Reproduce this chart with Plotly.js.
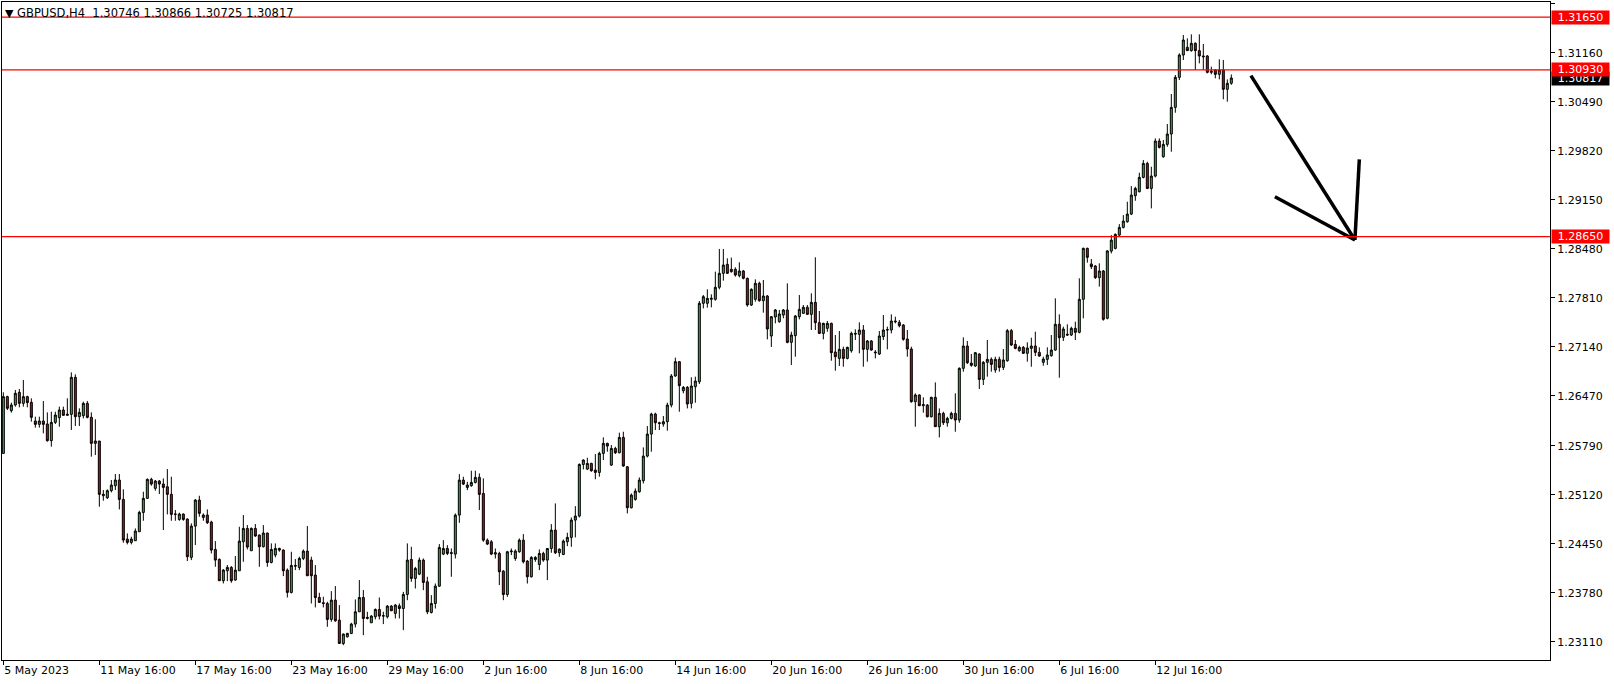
<!DOCTYPE html>
<html>
<head>
<meta charset="utf-8">
<script src="https://cdn.plot.ly/plotly-3.0.1.min.js"></script>
<style>html,body{margin:0;padding:0;background:#fff;}#chart{width:1614px;height:684px;}</style>
</head>
<body>
<div id="chart"></div>
<script>
// GBPUSD H4, bars from 5 May 2023 16:00 to 17 Jul 2023 20:00
const openP = [
1.25685,1.26461,1.26269,1.26347,1.26520,1.26369,1.26461,1.26383,1.26128,1.26082,
1.26128,1.26087,1.25859,1.26109,1.26173,1.26278,1.26205,1.26219,1.26725,1.26187,
1.26201,1.26369,1.26178,1.25822,1.25854,1.25106,1.25079,1.25175,1.25243,1.25321,
1.25056,1.24513,1.24468,1.24491,1.24614,1.24878,1.25070,1.25330,1.25207,1.25307,
1.25266,1.25229,1.25125,1.24851,1.24782,1.24855,1.24787,1.24263,1.24691,1.25047,
1.24810,1.24842,1.24746,1.24372,1.24235,1.23944,1.24080,1.24126,1.23953,1.24080,
1.24477,1.24659,1.24354,1.24659,1.24568,1.24409,1.24596,1.24194,1.24295,1.24386,
1.24363,1.24089,1.23784,1.24153,1.24126,1.24249,1.24349,1.24226,1.24021,1.23715,
1.23643,1.23633,1.23415,1.23679,1.23405,1.23086,1.23177,1.23223,1.23351,1.23519,
1.23715,1.23428,1.23369,1.23451,1.23551,1.23460,1.23451,1.23597,1.23497,1.23601,
1.23564,1.23756,1.24235,1.23975,1.24034,1.24226,1.23929,1.23510,1.23633,1.23870,
1.24308,1.24385,1.24317,1.24308,1.24841,1.25320,1.25220,1.25243,1.25288,1.25357,
1.25138,1.24499,1.24476,1.24308,1.24317,1.24075,1.23756,1.24340,1.24248,1.24340,
1.24499,1.24212,1.23998,1.24262,1.24166,1.24317,1.24226,1.24385,1.24636,1.24326,
1.24303,1.24476,1.24536,1.24773,1.24828,1.25534,1.25471,1.25548,1.25457,1.25425,
1.25685,1.25822,1.25525,1.25753,1.25694,1.25904,1.25502,1.24942,1.25056,1.25160,
1.25311,1.25648,1.25949,1.26223,1.26104,1.26086,1.26118,1.26346,1.26743,1.26939,
1.26542,1.26588,1.26369,1.26597,1.26665,1.27737,1.27737,1.27792,1.27792,1.27956,
1.28147,1.28270,1.28170,1.28202,1.28115,1.28179,1.28079,1.27714,1.27792,1.28010,
1.27773,1.27837,1.27290,1.27550,1.27486,1.27577,1.27646,1.27203,1.27295,1.27554,
1.27600,1.27682,1.27586,1.27750,1.27472,1.27326,1.27395,1.27463,1.27071,1.26984,
1.27108,1.26984,1.27089,1.27326,1.27313,1.27372,1.27108,1.27222,1.27071,1.27044,
1.27281,1.27372,1.27372,1.27495,1.27477,1.27440,1.27249,1.27112,1.26392,1.26483,
1.26337,1.26346,1.26186,1.26451,1.26050,1.26232,1.26104,1.26164,1.26232,1.26141,
1.26848,1.27153,1.26920,1.26880,1.27044,1.26697,1.26930,1.26971,1.26825,1.26971,
1.26861,1.26952,1.27363,1.27176,1.27089,1.27135,1.27053,1.27121,1.27153,1.27066,
1.26930,1.26971,1.27021,1.27098,1.27450,1.27272,1.27313,1.27304,1.27395,1.27340,
1.27792,1.28489,1.28275,1.28247,1.28088,1.28179,1.27532,1.28451,1.28488,1.28670,
1.28775,1.28852,1.28957,1.29208,1.29263,1.29459,1.29650,1.29308,1.29477,1.29956,
1.29741,1.29910,1.30052,1.30416,1.30827,1.31132,1.31237,1.31192,1.31292,1.31192,
1.31119,1.31119,1.30895,1.30927,1.30868,1.30927,1.30663,1.30746];
const highP = [
1.26520,1.26474,1.26379,1.26552,1.26565,1.26689,1.26474,1.26438,1.26187,1.26187,
1.26401,1.26246,1.26255,1.26255,1.26324,1.26324,1.26438,1.26793,1.26766,1.26301,
1.26392,1.26401,1.26246,1.26151,1.25854,1.25184,1.25193,1.25321,1.25403,1.25403,
1.25193,1.24591,1.24545,1.24659,1.24901,1.25161,1.25343,1.25352,1.25321,1.25321,
1.25343,1.25471,1.25366,1.24910,1.24874,1.24865,1.24796,1.24728,1.25061,1.25106,
1.24865,1.24919,1.24764,1.24486,1.24249,1.24103,1.24158,1.24144,1.24281,1.24682,
1.24842,1.24705,1.24673,1.24719,1.24577,1.24705,1.24600,1.24454,1.24454,1.24395,
1.24372,1.24112,1.24340,1.24240,1.24272,1.24372,1.24691,1.24272,1.24158,1.23779,
1.23725,1.23656,1.23802,1.23871,1.23611,1.23223,1.23232,1.23369,1.23688,1.23953,
1.23816,1.23519,1.23474,1.23565,1.23715,1.23519,1.23611,1.23611,1.23624,1.23633,
1.23792,1.24454,1.24408,1.24134,1.24262,1.24248,1.23998,1.23747,1.23906,1.24445,
1.24499,1.24431,1.24385,1.24864,1.25402,1.25366,1.25297,1.25448,1.25448,1.25411,
1.25343,1.24522,1.24499,1.24385,1.24340,1.24089,1.24353,1.24385,1.24372,1.24522,
1.24581,1.24226,1.24280,1.24280,1.24372,1.24340,1.24385,1.24718,1.25001,1.24385,
1.24508,1.24600,1.24809,1.24964,1.25548,1.25603,1.25626,1.25557,1.25676,1.25708,
1.25904,1.25831,1.25799,1.25776,1.25968,1.25981,1.25512,1.25138,1.25206,1.25357,
1.25767,1.26059,1.26241,1.26241,1.26118,1.26196,1.26378,1.26770,1.26994,1.26948,
1.26606,1.26606,1.26725,1.26734,1.27769,1.27851,1.27928,1.27860,1.28170,1.28480,
1.28480,1.28352,1.28362,1.28229,1.28298,1.28193,1.28088,1.27942,1.28065,1.28033,
1.28056,1.27851,1.27564,1.27659,1.27646,1.27659,1.28010,1.27349,1.27577,1.27851,
1.27714,1.27714,1.27874,1.28366,1.27632,1.27472,1.27495,1.27472,1.27304,1.27358,
1.27144,1.27144,1.27349,1.27381,1.27477,1.27440,1.27235,1.27235,1.27098,1.27358,
1.27577,1.27418,1.27586,1.27554,1.27509,1.27454,1.27372,1.27144,1.26506,1.26492,
1.26451,1.26360,1.26460,1.26656,1.26300,1.26255,1.26186,1.26255,1.26506,1.26861,
1.27272,1.27222,1.27044,1.27071,1.27053,1.26948,1.27235,1.26998,1.27007,1.27007,
1.27112,1.27386,1.27386,1.27235,1.27158,1.27153,1.27203,1.27267,1.27349,1.27135,
1.27007,1.27135,1.27304,1.27805,1.27586,1.27418,1.27450,1.27418,1.27486,1.28079,
1.28498,1.28498,1.28343,1.28261,1.28284,1.28193,1.28466,1.28670,1.28693,1.28820,
1.28943,1.29126,1.29340,1.29331,1.29523,1.29696,1.29673,1.29605,1.29992,1.29992,
1.29970,1.30188,1.30599,1.30859,1.31155,1.31406,1.31360,1.31415,1.31305,1.31415,
1.31283,1.31132,1.30973,1.30936,1.31073,1.31064,1.30799,1.30866];
const lowP = [
1.25685,1.26278,1.26242,1.26324,1.26315,1.26324,1.26315,1.26119,1.26037,1.26037,
1.25959,1.25845,1.25777,1.26087,1.26050,1.26205,1.26205,1.26005,1.26059,1.26059,
1.26164,1.26164,1.25640,1.25663,1.24956,1.25038,1.25061,1.25152,1.25184,1.24919,
1.24463,1.24441,1.24441,1.24491,1.24614,1.24764,1.25061,1.25243,1.25175,1.25129,
1.24637,1.24851,1.24764,1.24764,1.24764,1.24764,1.24213,1.24226,1.24431,1.24819,
1.24764,1.24719,1.24317,1.24135,1.23944,1.23907,1.23939,1.23916,1.23944,1.24080,
1.24203,1.24372,1.24354,1.24545,1.24135,1.24399,1.24135,1.24181,1.24263,1.24340,
1.24007,1.23715,1.23770,1.24089,1.24089,1.24226,1.24012,1.23633,1.23579,1.23643,
1.23579,1.23314,1.23383,1.23383,1.23086,1.23063,1.23168,1.23214,1.23305,1.23519,
1.23200,1.23415,1.23369,1.23415,1.23415,1.23351,1.23428,1.23533,1.23428,1.23428,
1.23268,1.23678,1.23929,1.23838,1.24020,1.23815,1.23487,1.23496,1.23564,1.23861,
1.24294,1.24294,1.23998,1.24248,1.24736,1.25252,1.25183,1.25229,1.25274,1.24910,
1.24476,1.24431,1.24294,1.24248,1.23884,1.23678,1.23724,1.24294,1.24217,1.24326,
1.24180,1.23906,1.23988,1.24203,1.24089,1.24203,1.23952,1.24326,1.24308,1.24271,
1.24294,1.24417,1.24408,1.24536,1.24809,1.25466,1.25457,1.25434,1.25331,1.25366,
1.25594,1.25708,1.25512,1.25676,1.25685,1.25502,1.24864,1.24932,1.25038,1.25147,
1.25274,1.25630,1.25708,1.26004,1.26004,1.26050,1.25995,1.26314,1.26734,1.26255,
1.26506,1.26300,1.26300,1.26378,1.26633,1.27668,1.27678,1.27682,1.27773,1.27928,
1.28047,1.28138,1.28156,1.28102,1.28092,1.28065,1.27691,1.27700,1.27760,1.27760,
1.27609,1.27244,1.27140,1.27463,1.27472,1.27532,1.27190,1.26893,1.27007,1.27518,
1.27591,1.27577,1.27372,1.27372,1.27317,1.27244,1.27349,1.26952,1.26816,1.26880,
1.26870,1.26971,1.27062,1.27235,1.27053,1.26870,1.26939,1.27089,1.26984,1.27030,
1.27235,1.27108,1.27326,1.27463,1.27408,1.27226,1.27007,1.26378,1.26050,1.26332,
1.26241,1.26177,1.26177,1.26050,1.25904,1.26072,1.26050,1.26150,1.25981,1.26104,
1.26802,1.26907,1.26870,1.26870,1.26565,1.26620,1.26734,1.26802,1.26788,1.26802,
1.26825,1.26939,1.27153,1.27108,1.27076,1.27044,1.26939,1.26870,1.27016,1.27007,
1.26884,1.26893,1.27007,1.27089,1.26720,1.27222,1.27290,1.27290,1.27235,1.27326,
1.27532,1.28293,1.28206,1.28070,1.27965,1.27500,1.27518,1.28419,1.28474,1.28647,
1.28761,1.28839,1.28943,1.29139,1.29254,1.29445,1.29299,1.29035,1.29459,1.29855,
1.29728,1.29878,1.29810,1.30343,1.30790,1.31064,1.31187,1.31178,1.30927,1.31018,
1.30927,1.30881,1.30868,1.30813,1.30799,1.30526,1.30494,1.30725];
const closeP = [
1.26461,1.26301,1.26347,1.26506,1.26369,1.26461,1.26379,1.26178,1.26082,1.26128,
1.26082,1.25859,1.26109,1.26210,1.26278,1.26205,1.26219,1.26725,1.26187,1.26246,
1.26369,1.26178,1.25822,1.25854,1.25125,1.25125,1.25175,1.25252,1.25321,1.25056,
1.24500,1.24468,1.24513,1.24623,1.24878,1.25070,1.25330,1.25266,1.25307,1.25266,
1.25220,1.25125,1.24851,1.24855,1.24855,1.24782,1.24272,1.24691,1.25047,1.24865,
1.24842,1.24737,1.24363,1.24226,1.23944,1.24089,1.24126,1.23944,1.24089,1.24486,
1.24659,1.24404,1.24659,1.24555,1.24409,1.24596,1.24194,1.24372,1.24386,1.24363,
1.24080,1.23784,1.24153,1.24144,1.24249,1.24349,1.24012,1.24012,1.23715,1.23647,
1.23633,1.23415,1.23679,1.23396,1.23086,1.23214,1.23223,1.23351,1.23519,1.23715,
1.23428,1.23442,1.23460,1.23551,1.23460,1.23465,1.23597,1.23533,1.23611,1.23564,
1.23756,1.24226,1.23975,1.24112,1.24226,1.23920,1.23519,1.23633,1.23870,1.24399,
1.24385,1.24317,1.24326,1.24841,1.25320,1.25265,1.25252,1.25288,1.25357,1.25124,
1.24499,1.24445,1.24308,1.24326,1.24066,1.23756,1.24340,1.24349,1.24349,1.24499,
1.24203,1.23998,1.24262,1.24235,1.24317,1.24226,1.24385,1.24636,1.24326,1.24376,
1.24486,1.24536,1.24773,1.24828,1.25534,1.25594,1.25548,1.25448,1.25425,1.25685,
1.25822,1.25785,1.25753,1.25694,1.25904,1.25512,1.24942,1.25115,1.25170,1.25320,
1.25648,1.25949,1.26223,1.26104,1.26095,1.26118,1.26346,1.26743,1.26939,1.26611,
1.26588,1.26360,1.26606,1.26674,1.27737,1.27828,1.27805,1.27805,1.27956,1.28147,
1.28261,1.28147,1.28202,1.28124,1.28179,1.28079,1.27714,1.27928,1.28010,1.27773,
1.27837,1.27386,1.27554,1.27646,1.27591,1.27646,1.27203,1.27304,1.27564,1.27655,
1.27682,1.27586,1.27750,1.27472,1.27326,1.27463,1.27463,1.27062,1.27007,1.27108,
1.26984,1.27135,1.27326,1.27317,1.27372,1.27108,1.27222,1.27098,1.27062,1.27290,
1.27372,1.27377,1.27495,1.27486,1.27431,1.27244,1.27112,1.26392,1.26483,1.26337,
1.26351,1.26186,1.26451,1.26050,1.26232,1.26104,1.26164,1.26232,1.26141,1.26848,
1.27153,1.26925,1.26889,1.27062,1.26697,1.26930,1.26971,1.26902,1.26971,1.26861,
1.26962,1.27363,1.27167,1.27121,1.27135,1.27053,1.27126,1.27153,1.27066,1.27016,
1.26975,1.27030,1.27098,1.27450,1.27267,1.27386,1.27304,1.27395,1.27340,1.27792,
1.28489,1.28366,1.28238,1.28088,1.28179,1.27518,1.28453,1.28601,1.28679,1.28775,
1.28861,1.28957,1.29217,1.29308,1.29459,1.29650,1.29308,1.29477,1.29956,1.29869,
1.29910,1.30052,1.30416,1.30827,1.31132,1.31337,1.31192,1.31292,1.31192,1.31119,
1.31109,1.30895,1.30909,1.30868,1.30927,1.30663,1.30745,1.30817];

// x-axis labels, one every 24 bars starting at the first bar
const timeLabels = ["5 May 2023","11 May 16:00","17 May 16:00","23 May 16:00","29 May 16:00",
  "2 Jun 16:00","8 Jun 16:00","14 Jun 16:00","20 Jun 16:00","26 Jun 16:00",
  "30 Jun 16:00","6 Jul 16:00","12 Jul 16:00"];
const priceTicks = [1.31830,1.31160,1.30490,1.29820,1.29150,1.28480,1.27810,
  1.27140,1.26470,1.25790,1.25120,1.24450,1.23780,1.23110];

// horizontal levels (red lines)
const levels = [1.31650, 1.30930, 1.28650];
const lastPrice = 1.30817;
const header = {symbol:"GBPUSD,H4", o:"1.30746", h:"1.30866", l:"1.30725", c:"1.30817"};

// hand drawn arrow (bar index, price)
const shaftX = [312.9, 338.9], shaftY = [1.30850, 1.28603];
const wingX  = [318.9, 338.9], wingY  = [1.29195, 1.28603];
const tailX  = [338.9, 339.5, 340.0], tailY = [1.28603, 1.29287, 1.29706];

const idx = openP.map((_, i) => i + 1);
const labelPos = timeLabels.map((_, i) => 1 + 24 * i);

const GREEN = '#2fb42f', RED = '#e00000';
const traces = [
  {type:'candlestick', x: idx, open: openP, high: highP, low: lowP, close: closeP,
   increasing:{line:{color:'#000', width:1}, fillcolor:GREEN},
   decreasing:{line:{color:'#000', width:1}, fillcolor:RED},
   whiskerwidth:0, hoverinfo:'skip', showlegend:false},
  {type:'scatter', mode:'lines', x: shaftX, y: shaftY, line:{color:'#000', width:3.5}, hoverinfo:'skip', showlegend:false},
  {type:'scatter', mode:'lines', x: wingX, y: wingY, line:{color:'#000', width:3.5}, hoverinfo:'skip', showlegend:false},
  {type:'scatter', mode:'lines', x: tailX, y: tailY, line:{color:'#000', width:3.5}, hoverinfo:'skip', showlegend:false}
];

const FONT = 'DejaVu Sans, Verdana, sans-serif';
const shapes = levels.map(v => ({type:'line', xref:'paper', x0:0, x1:1, yref:'y', y0:v, y1:v,
  line:{color:'#ff0000', width:1.2}, layer:'above'}));

const annotations = [
  {xref:'paper', x:1, xanchor:'left', xshift:1, yref:'y', y:lastPrice, yanchor:'middle',
   text:lastPrice.toFixed(5), showarrow:false, bgcolor:'#000000', font:{family:FONT, size:11, color:'#fff'},
   width:55, height:11, borderpad:1, align:'center'}
].concat(levels.map(v => ({xref:'paper', x:1, xanchor:'left', xshift:1, yref:'y', y:v, yanchor:'middle',
   text:v.toFixed(5), showarrow:false, bgcolor:'#ff0000', font:{family:FONT, size:11, color:'#fff'},
   width:55, height:11, borderpad:1, align:'center'})));

const layout = {
  width:1614, height:684,
  margin:{l:2, r:64, t:2, b:24, pad:0},
  paper_bgcolor:'#fff', plot_bgcolor:'#fff',
  font:{family:FONT, size:11, color:'#000'},
  showlegend:false,
  boxgap:0.5, boxgroupgap:0,
  title:{text:'<span style="font-size:11px">\u25BC</span>\u00a0' + header.symbol + '\u00a0\u00a0' +
      [header.o, header.h, header.l, header.c].join(' '),
    xref:'container', x:5/1614, xanchor:'left', yref:'container', y:1-12.5/684, yanchor:'middle',
    font:{family:FONT, size:11.5, color:'#000'}},
  xaxis:{range:[0.667, 387.67], tickmode:'array', tickvals:labelPos, ticktext:timeLabels,
    ticks:'outside', ticklen:4, tickcolor:'#000', tickwidth:1, ticklabelposition:'outside right',
    showgrid:false, zeroline:false, showline:true, linecolor:'#000', linewidth:1, mirror:true,
    rangeslider:{visible:false}, fixedrange:true, tickfont:{family:FONT, size:11, color:'#000'}},
  yaxis:{side:'right', range:[1.22860, 1.31857], tickmode:'array', tickvals:priceTicks,
    ticktext:priceTicks.map(v => v.toFixed(5)), ticks:'outside', ticklen:4, tickcolor:'#000',
    showgrid:false, zeroline:false, showline:true, linecolor:'#000', linewidth:1, mirror:true,
    fixedrange:true, tickfont:{family:FONT, size:11, color:'#000'}},
  shapes: shapes,
  annotations: annotations
};

Plotly.newPlot('chart', traces, layout, {staticPlot:true, displayModeBar:false});
</script>
</body>
</html>
